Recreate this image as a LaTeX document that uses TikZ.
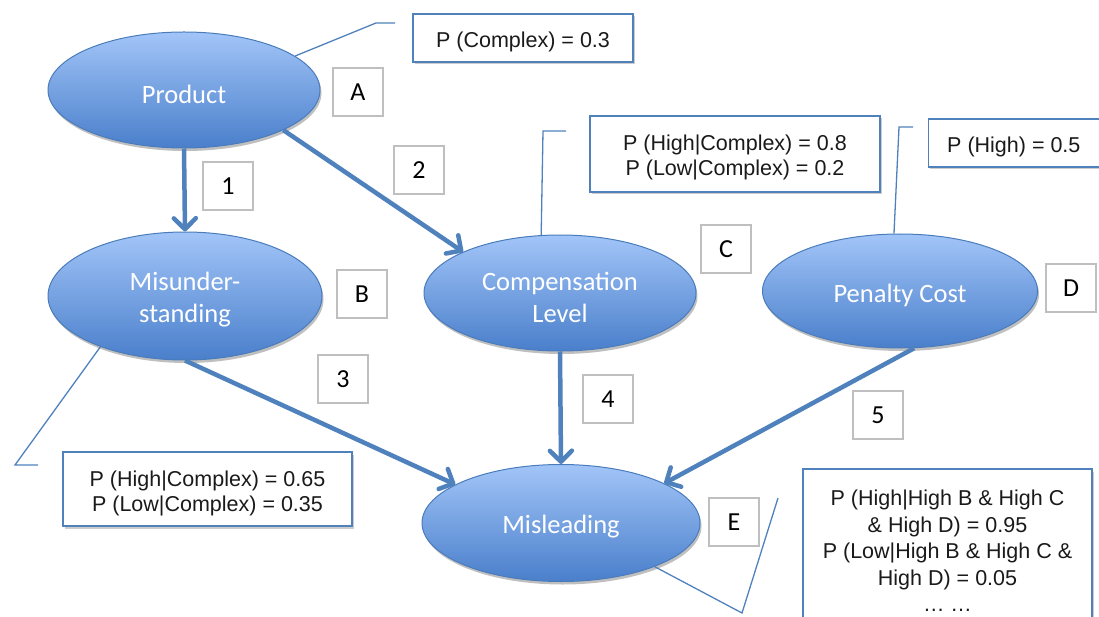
\documentclass[tikz,border=0pt]{standalone}
\usepackage{fontspec}
\setmainfont{Carlito}
\newfontfamily\probfont{Liberation Sans}
\usetikzlibrary{arrows.meta,shadows,shapes.geometric}

\definecolor{linkblue}{HTML}{4F81BD}
\definecolor{rimblue}{HTML}{4A7CBB}
\definecolor{topblue}{HTML}{A2C5F8}
\definecolor{bottomblue}{HTML}{4A7FCB}
\definecolor{tagrim}{HTML}{BFBFBF}
\definecolor{inktext}{HTML}{1A1A1A}

\tikzset{
  netvar/.style={ellipse, draw=rimblue, line width=1pt,
    top color=topblue, bottom color=bottomblue, inner sep=0pt,
    drop shadow={shadow xshift=1.5pt, shadow yshift=-3pt, opacity=0.25, fill=black}},
  nettext/.style={text=white, font=\fontsize{26.5}{32}\selectfont,
    align=center, inner sep=0pt, yshift=-4pt},
  tagbox/.style={rectangle, draw=tagrim, line width=1.3pt, fill=white,
    minimum width=50pt, minimum height=48pt, inner sep=0pt,
    font=\fontsize{26}{30}\selectfont, text=black},
  probbox/.style={rectangle, draw=linkblue, line width=1.4pt, fill=white,
    inner sep=0pt,
    drop shadow={shadow xshift=1.5pt, shadow yshift=-2.5pt, opacity=0.2, fill=black}},
  probtext/.style={align=center, text=inktext, inner sep=0pt, yshift=-3.5pt,
    font=\probfont\fontsize{21.5}{24.5}\selectfont},
  linkarrow/.style={draw=linkblue, line width=4.5pt,
    -{Straight Barb[length=11pt, width=22pt, round]}},
  calloutline/.style={draw=linkblue, line width=1.3pt}
}

\begin{document}
\begin{tikzpicture}[x=1pt, y=-1pt]
\useasboundingbox (0,0) rectangle (1099,617);
\clip (0,0) rectangle (1099,617);

% variables of the network
\node[netvar, minimum width=272pt, minimum height=116pt,
  label={[nettext]center:Product}] (prod) at (184,90) {};
\node[netvar, minimum width=274pt, minimum height=128pt,
  label={[nettext]center:{Misunder-\\standing}}] (mis) at (185,296) {};
\node[netvar, minimum width=272pt, minimum height=116pt,
  label={[nettext]center:{Compensation\\Level}}] (comp) at (560,293) {};
\node[netvar, minimum width=275pt, minimum height=114pt,
  label={[nettext]center:Penalty Cost}] (pen) at (900,291) {};
\node[netvar, minimum width=278pt, minimum height=117pt,
  label={[nettext]center:Misleading}] (misl) at (561,523) {};

% free ends of the callout lines
\coordinate (pc1) at (376,23);
\coordinate (pc2) at (395,23);
\coordinate (cc1) at (543,131);
\coordinate (cc2) at (566,131);
\coordinate (dc1) at (899,127);
\coordinate (dc2) at (913,127);
\coordinate (bc1) at (15,465);
\coordinate (bc2) at (38,465);
\coordinate (ec1) at (742,613);
\coordinate (ec2) at (778,498);

\draw[calloutline] (prod.17) -- (pc1) -- (pc2);
\draw[calloutline] (comp.108) -- (cc1) -- (cc2);
\draw[calloutline] (pen.96) -- (dc1) -- (dc2);
\draw[calloutline] (mis.211) -- (bc1) -- (bc2);
\draw[calloutline] (misl.-25) -- (ec1) -- (ec2);

% dependencies
\draw[linkarrow] (prod.south) -- (mis.north);
\draw[linkarrow] (prod.-22) -- (comp.157);
\draw[linkarrow] (mis.south) -- (misl.160);
\draw[linkarrow] (comp.south) -- (misl.north);
\draw[linkarrow] (pen.-76) -- (misl.21);

% letter and number tags
\node[tagbox] (tA) at (358,92) {A};
\node[tagbox] (t1) at (228,186) {1};
\node[tagbox] (t2) at (419,170) {2};
\node[tagbox] (tB) at (362,294) {B};
\node[tagbox] (tC) at (726,249) {C};
\node[tagbox] (tD) at (1071,288) {D};
\node[tagbox] (t3) at (343,379) {3};
\node[tagbox] (t4) at (608,399) {4};
\node[tagbox] (t5) at (878,415) {5};
\node[tagbox] (tE) at (734,522) {E};

% probability tables
\node[probbox, minimum width=220pt, minimum height=48pt,
  label={[probtext]center:P (Complex) = 0.3}] (pA) at (523,38) {};
\node[probbox, minimum width=290pt, minimum height=76pt,
  label={[probtext]center:{P (High|Complex) = 0.8\\P (Low|Complex) = 0.2}}] (pC) at (735,154) {};
\node[probbox, anchor=west, minimum width=182pt, minimum height=48pt,
  label={[probtext, anchor=west, xshift=19pt]west:P (High) = 0.5}] (pD) at (928,143) {};
\node[probbox, minimum width=289pt, minimum height=74pt,
  label={[probtext, yshift=-1pt]center:{P (High|Complex) = 0.65\\P (Low|Complex) = 0.35}}] (pB) at (207.5,489) {};
\node[probbox, minimum width=289pt, minimum height=171pt,
  label={[probtext, yshift=7pt, font=\probfont\fontsize{21.5}{26.5}\selectfont]center:{P (High|High B \& High C\\\& High D) = 0.95\\P (Low|High B \& High C \&\\High D) = 0.05\\… …}}] (pE) at (947.5,554.5) {};

\end{tikzpicture}
\end{document}
